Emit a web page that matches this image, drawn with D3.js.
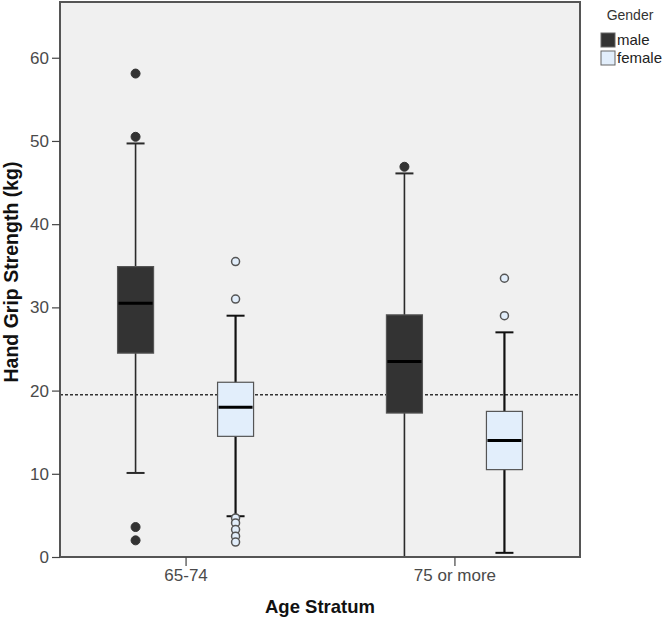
<!DOCTYPE html>
<html>
<head>
<meta charset="utf-8">
<script src="https://d3js.org/d3.v7.min.js"></script>
<style>
  body { margin: 0; background: #fff; }
  svg { font-family: "Liberation Sans", Arial, sans-serif; }
</style>
</head>
<body>
<svg width="663" height="618"></svg>
<script>
// data
var categories = ["65-74", "75 or more"];
var genders = ["male", "female"];

var maleLo = [10.1, 0];
var maleQ1 = [24.5, 17.3];
var maleMed = [30.5, 23.5];
var maleQ3 = [34.9, 29.1];
var maleHi = [49.7, 46.1];
var maleOut = [[58.1, 50.5, 3.6, 2.0], [46.9]];

var femaleLo = [4.9, 0.5];
var femaleQ1 = [14.5, 10.5];
var femaleMed = [18.0, 14.0];
var femaleQ3 = [21.0, 17.5];
var femaleHi = [29.0, 27.0];
var femaleOut = [[35.5, 31.0, 4.7, 4.1, 3.3, 2.5, 1.8], [33.5, 29.0]];

var yTicks = [0, 10, 20, 30, 40, 50, 60];
var refLine = 19.5;

var svg = d3.select("svg");

var plotLeft = 60, plotRight = 580, plotTop = 2, plotBottom = 557;

var x = d3.scalePoint()
    .domain(categories)
    .range([plotLeft, plotRight])
    .padding(0.467);
var dx = d3.scalePoint()
    .domain(genders)
    .range([-50, 50]);
var y = d3.scaleLinear()
    .domain([0, 66.7])
    .range([plotBottom, plotTop]);

var colors = { male: "#333333", female: "#e2eefb" };

// plot background
svg.append("rect")
    .attr("x", plotLeft).attr("y", plotTop)
    .attr("width", plotRight - plotLeft).attr("height", plotBottom - plotTop)
    .attr("fill", "#f0f0f0");

// reference line
svg.append("line")
    .attr("x1", plotLeft).attr("x2", plotRight)
    .attr("y1", y(refLine)).attr("y2", y(refLine))
    .attr("stroke", "#333").attr("stroke-width", 1.6)
    .attr("stroke-dasharray", "3,2");

var series = [
    { g: "male", lo: maleLo, q1: maleQ1, med: maleMed, q3: maleQ3, hi: maleHi, out: maleOut },
    { g: "female", lo: femaleLo, q1: femaleQ1, med: femaleMed, q3: femaleQ3, hi: femaleHi, out: femaleOut }
];

var boxW = 36, capW = 18;

series.forEach(function(s) {
    categories.forEach(function(c, i) {
        var cx = x(c) + dx(s.g);
        var g = svg.append("g");
        var wColor = s.g === "male" ? "#2a2a2a" : "#111";
        var wWidth = s.g === "male" ? 1.6 : 2.2;

        g.append("line") // whisker
            .attr("x1", cx).attr("x2", cx)
            .attr("y1", y(s.lo[i])).attr("y2", y(s.hi[i]))
            .attr("stroke", wColor).attr("stroke-width", wWidth);
        g.append("line") // upper cap
            .attr("x1", cx - capW / 2).attr("x2", cx + capW / 2)
            .attr("y1", y(s.hi[i])).attr("y2", y(s.hi[i]))
            .attr("stroke", wColor).attr("stroke-width", 2);
        g.append("line") // lower cap
            .attr("x1", cx - capW / 2).attr("x2", cx + capW / 2)
            .attr("y1", y(s.lo[i])).attr("y2", y(s.lo[i]))
            .attr("stroke", wColor).attr("stroke-width", 2);
        g.append("rect") // box
            .attr("x", cx - boxW / 2)
            .attr("width", boxW)
            .attr("y", y(s.q3[i]))
            .attr("height", y(s.q1[i]) - y(s.q3[i]))
            .attr("fill", colors[s.g])
            .attr("stroke", "#555").attr("stroke-width", 1.2);
        g.append("line") // median
            .attr("x1", cx - boxW / 2 + 1).attr("x2", cx + boxW / 2 - 1)
            .attr("y1", y(s.med[i])).attr("y2", y(s.med[i]))
            .attr("stroke", "#000").attr("stroke-width", 3);
        g.selectAll("circle") // outliers
            .data(s.out[i])
            .enter()
            .append("circle")
            .attr("cx", cx)
            .attr("cy", function(d) { return y(d); })
            .attr("r", s.g === "male" ? 4.5 : 4)
            .attr("fill", colors[s.g])
            .attr("stroke", s.g === "male" ? "#333" : "#555")
            .attr("stroke-width", s.g === "male" ? 1 : 1.5);
    });
});

// frame
svg.append("rect")
    .attr("x", plotLeft).attr("y", plotTop)
    .attr("width", plotRight - plotLeft).attr("height", plotBottom - plotTop)
    .attr("fill", "none")
    .attr("stroke", "#555").attr("stroke-width", 2);

// y axis
var yAxis = svg.append("g")
    .attr("transform", "translate(" + plotLeft + ",0)")
    .call(d3.axisLeft(y).tickValues(yTicks).tickSize(8).tickPadding(3));
yAxis.select(".domain").remove();
yAxis.selectAll("line").attr("stroke", "#444").attr("stroke-width", 1.2);
yAxis.selectAll("text")
    .attr("fill", "#4a4a4a")
    .style("font-size", "17px")
    .style("font-family", "Liberation Sans, Arial, sans-serif");

// x axis
var xAxis = svg.append("g")
    .attr("transform", "translate(0," + plotBottom + ")")
    .call(d3.axisBottom(x).tickSize(9).tickPadding(3));
xAxis.select(".domain").remove();
xAxis.selectAll("line").attr("stroke", "#444").attr("stroke-width", 1.2);
xAxis.selectAll("text")
    .attr("fill", "#4a4a4a")
    .style("font-size", "17px")
    .style("font-family", "Liberation Sans, Arial, sans-serif");

// axis titles
svg.append("text")
    .attr("x", (plotLeft + plotRight) / 2)
    .attr("y", 613)
    .attr("text-anchor", "middle")
    .style("font-size", "18.5px")
    .style("font-weight", "bold")
    .attr("fill", "#111")
    .text("Age Stratum");

svg.append("text")
    .attr("transform", "translate(18,272) rotate(-90)")
    .attr("text-anchor", "middle")
    .style("font-size", "19.5px")
    .style("font-weight", "bold")
    .attr("fill", "#111")
    .text("Hand Grip Strength (kg)");

// legend
var legend = svg.append("g");
legend.append("text")
    .attr("x", 630).attr("y", 20)
    .attr("text-anchor", "middle")
    .style("font-size", "14px")
    .attr("fill", "#333")
    .text("Gender");
genders.forEach(function(gname, i) {
    legend.append("rect")
        .attr("x", 601).attr("y", 33 + i * 18)
        .attr("width", 14).attr("height", 14)
        .attr("fill", colors[gname])
        .attr("stroke", "#666").attr("stroke-width", 1);
    legend.append("text")
        .attr("x", 617).attr("y", 45 + i * 18)
        .style("font-size", "15px")
        .attr("fill", "#222")
        .text(gname);
});
</script>
</body>
</html>
